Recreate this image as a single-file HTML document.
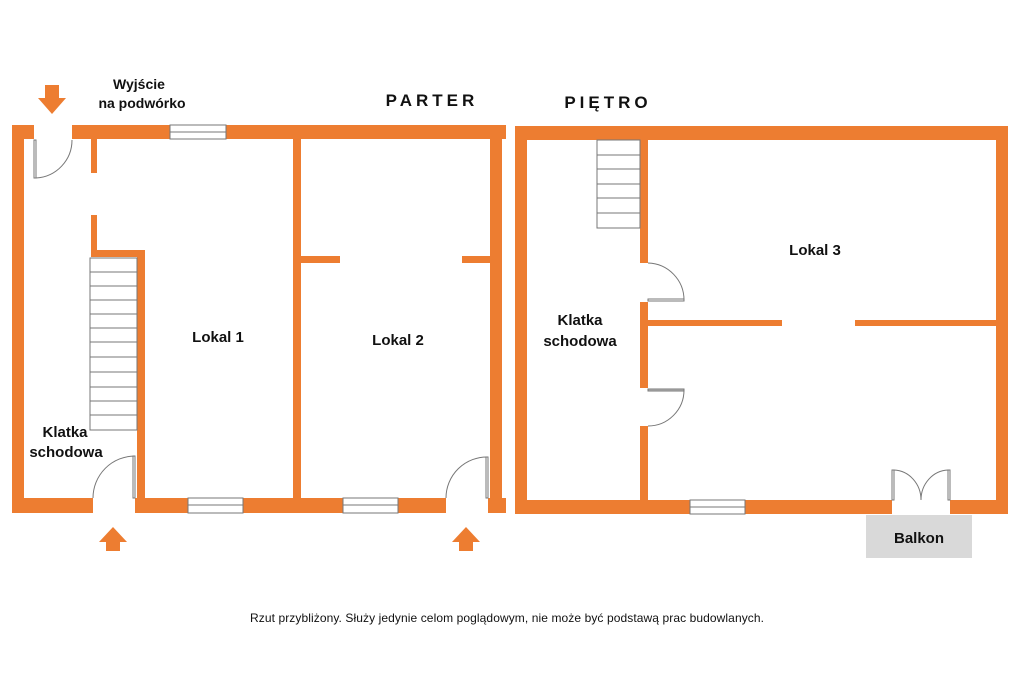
<!DOCTYPE html>
<html><head><meta charset="utf-8"><style>
html,body{margin:0;padding:0;background:#fff;}
svg{display:block;}
text{font-family:"Liberation Sans",sans-serif;font-weight:bold;fill:#111;}
</style></head><body>
<svg width="1024" height="682" viewBox="0 0 1024 682" xmlns="http://www.w3.org/2000/svg">
<g fill="#ED7D31">
<rect x="12" y="125" width="22" height="14"/>
<rect x="72" y="125" width="434" height="14"/>
<rect x="12" y="125" width="12" height="388"/>
<rect x="490" y="125" width="12" height="388"/>
<rect x="12" y="498" width="81" height="15"/>
<rect x="135" y="498" width="311" height="15"/>
<rect x="488" y="498" width="18" height="15"/>
<rect x="91" y="139" width="6" height="34"/>
<rect x="91" y="215" width="6" height="41"/>
<rect x="91" y="250" width="54" height="7"/>
<rect x="137" y="250" width="8" height="250"/>
<rect x="293" y="139" width="8" height="360"/>
<rect x="301" y="256" width="39" height="7"/>
<rect x="462" y="256" width="30" height="7"/>
<rect x="515" y="126" width="493" height="14"/>
<rect x="515" y="126" width="12" height="388"/>
<rect x="996" y="126" width="12" height="388"/>
<rect x="515" y="500" width="377" height="14"/>
<rect x="950" y="500" width="58" height="14"/>
<rect x="640" y="140" width="8" height="123"/>
<rect x="640" y="302" width="8" height="86"/>
<rect x="640" y="426" width="8" height="74"/>
<rect x="648" y="320" width="134" height="6"/>
<rect x="855" y="320" width="141" height="6"/>
<polygon points="45,85 59,85 59,98 66,98 52,114 38,98 45,98"/>
<polygon points="113,527 127,542 120,542 120,551 106,551 106,542 99,542"/>
<polygon points="466,527 480,542 473,542 473,551 459,551 459,542 452,542"/>
</g>
<g fill="#fff" stroke="#777" stroke-width="1">
<rect x="170" y="125" width="56" height="14"/><line x1="170" y1="132" x2="226" y2="132"/>
<rect x="188" y="498" width="55" height="15"/><line x1="188" y1="505" x2="243" y2="505"/>
<rect x="343" y="498" width="55" height="15"/><line x1="343" y1="505" x2="398" y2="505"/>
<rect x="690" y="500" width="55" height="14"/><line x1="690" y1="507" x2="745" y2="507"/>
<rect x="90" y="258" width="47" height="172"/>
<rect x="597" y="140" width="43" height="88"/>
</g>
<g stroke="#777" stroke-width="1" fill="none">
<path d="M90 272H137M90 286H137M90 300H137M90 314H137M90 328H137M90 342H137M90 357H137M90 372H137M90 387H137M90 401H137M90 415H137"/>
<path d="M597 155H640M597 169H640M597 184H640M597 198H640M597 213H640"/>
<rect x="34" y="140" width="2" height="38" fill="#fff"/>
<path d="M36 178 A38 38 0 0 0 72 140"/>
<rect x="133" y="456" width="2" height="42" fill="#fff"/>
<path d="M93 498 A42 42 0 0 1 135 456"/>
<rect x="486" y="457" width="2" height="41" fill="#fff"/>
<path d="M446 498 A41 41 0 0 1 488 457"/>
<rect x="648" y="299" width="36" height="2" fill="#fff"/>
<path d="M648 263 A37 37 0 0 1 684 300"/>
<rect x="648" y="389" width="36" height="2" fill="#bbb"/>
<path d="M684 390 A36 36 0 0 1 648 426"/>
<rect x="892" y="470" width="2" height="30" fill="#fff"/>
<rect x="948" y="470" width="2" height="30" fill="#fff"/>
<path d="M894 470 A28 30 0 0 1 921 500 M948 470 A28 30 0 0 0 921 500"/>
</g>
<rect x="866" y="515" width="106" height="43" fill="#D9D9D9"/>
<text x="919" y="543" font-size="15" text-anchor="middle">Balkon</text>
<text x="139" y="89" font-size="14" text-anchor="middle">Wyjście</text>
<text x="142" y="108" font-size="14" text-anchor="middle">na podwórko</text>
<text x="432" y="106" font-size="17" text-anchor="middle" letter-spacing="4">PARTER</text>
<text x="608" y="108" font-size="17" text-anchor="middle" letter-spacing="4">PIĘTRO</text>
<text x="218" y="342" font-size="15" text-anchor="middle">Lokal 1</text>
<text x="398" y="345" font-size="15" text-anchor="middle">Lokal 2</text>
<text x="815" y="255" font-size="15" text-anchor="middle">Lokal 3</text>
<text x="65" y="437" font-size="15" text-anchor="middle">Klatka</text>
<text x="66" y="457" font-size="15" text-anchor="middle">schodowa</text>
<text x="580" y="325" font-size="15" text-anchor="middle">Klatka</text>
<text x="580" y="346" font-size="15" text-anchor="middle">schodowa</text>
<text x="507" y="622" font-size="12" text-anchor="middle" textLength="514" style="font-weight:normal">Rzut przybliżony. Służy jedynie celom poglądowym, nie może być podstawą prac budowlanych.</text>
</svg>
</body></html>
